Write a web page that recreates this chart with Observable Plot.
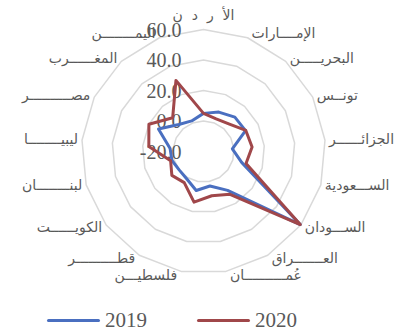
<!DOCTYPE html>
<html>
<head>
<meta charset="utf-8">
<script src="https://cdn.jsdelivr.net/npm/d3@7"></script>
<script src="https://cdn.jsdelivr.net/npm/@observablehq/plot@0.6"></script>
<style>
  body { margin: 0; background: #fff; }
  #wrap { width: 401px; height: 334px; position: relative; overflow: hidden; }
  #legend { position: absolute; left: 0; top: 300px; width: 401px; height: 34px; }
  .sw { position: absolute; height: 3px; top: 19px; border-radius: 2px; }
  .lt { position: absolute; top: 7px; font-family: "Liberation Serif", "Times New Roman", serif; font-size: 21px; color: #595959; line-height: 26px; }
</style>
</head>
<body>
<div id="wrap"><div id="chart"></div><div id="legend"></div></div>
<script>
// ---- data ----
const categories = ["Jordan","UAE","Bahrain","Tunisia","Algeria","Saudi Arabia","Sudan","Iraq","Oman","Palestine","Qatar","Kuwait","Lebanon","Libya","Egypt","Morocco","Yemen"];
const labels = [
  "الأ\u00A0 ر\u00A0 د\u00A0 ن",
  "الإمــــارات",
  "البحريـــــن",
  "تونــس",
  "الجزائــــــر",
  "الســـعودية",
  "الســـودان",
  "العـــــــراق",
  "عُمــــــــــان",
  "فلسطيـــن",
  "قطــــــــــر",
  "الكويــــــت",
  "لبنــــــــان",
  "ليبيــــــــا",
  "مصــــــــــر",
  "المغــــــرب",
  "اليمــــــــن"
];
const years = ["2019", "2020"];
const values2019 = [5, 7.7, 10.5, 10.8, -1, 6, 59.5, 10, 3, 6, 1, 0, 1.5, 2, 13, 4, 1.5];
const values2020 = [5, 3, 4.6, 11, 12, 9, 59.5, 13, 9.5, 13.8, 4, 6, 2.4, 16, 20, 10, 30];
const tickValues = [-20, 0, 20, 40, 60];
const colors = ["#4A6FC0", "#A0474A"];

// ---- geometry helpers ----
const rMin = tickValues[0];
const rMax = tickValues[tickValues.length - 1];
const R = rMax - rMin;
const N = categories.length;
const ang = i => i * 2 * Math.PI / N;

const rings = tickValues.slice(1).flatMap(t => categories.map((c, i) => ({ring: t, x: (t - rMin) * Math.sin(ang(i)), y: (t - rMin) * Math.cos(ang(i))})));
const series = [values2019, values2020].flatMap((vals, k) => vals.map((v, i) => ({year: years[k], cat: categories[i], x: (v - rMin) * Math.sin(ang(i)), y: (v - rMin) * Math.cos(ang(i))})));

const pxPerUnit = 244 / (2 * R);
const labelData = labels.map((t, i) => {
  const a = ang(i);
  const dyPx = i === 0 ? -14 : -4 * Math.cos(a);
  return {text: t, i, x: R * Math.sin(a), y: R * Math.cos(a) - dyPx / pxPerUnit, side: i === 0 ? "top" : (a < Math.PI ? "right" : "left")};
});

const labelStyle = {fontFamily: "DejaVu Sans", fontSize: 14, fill: "#595959"};

const chart = Plot.plot({
  width: 401,
  height: 300,
  marginLeft: 81,
  marginRight: 76,
  marginTop: 29,
  marginBottom: 27,
  x: {domain: [-R, R], axis: null},
  y: {domain: [-R, R], axis: null},
  color: {domain: years, range: colors},
  marks: [
    Plot.line(rings, {x: "x", y: "y", z: "ring", curve: "linear-closed", stroke: "#d9d9d9", strokeWidth: 1.5}),
    Plot.text(tickValues, {x: 0, y: d => d - rMin, text: d => d.toFixed(1), textAnchor: "end", dx: -22, dy: 1, fontFamily: "Liberation Serif", fontSize: 20, fill: "#595959"}),
    Plot.line(series, {x: "x", y: "y", z: "year", stroke: "year", curve: "linear-closed", strokeWidth: 3, strokeLinejoin: "round"}),
    Plot.text(labelData.filter(d => d.side === "right"), {x: "x", y: "y", text: "text", textAnchor: "start", dx: 4, ...labelStyle}),
    Plot.text(labelData.filter(d => d.side === "left"), {x: "x", y: "y", text: "text", textAnchor: "end", dx: -4, ...labelStyle}),
    Plot.text(labelData.filter(d => d.side === "top"), {x: "x", y: "y", text: "text", textAnchor: "middle", ...labelStyle})
  ]
});
document.getElementById("chart").appendChild(chart);

// ---- legend ----
const legend = document.getElementById("legend");
const legendX = [47, 197];
years.forEach((y, k) => {
  const sw = document.createElement("div");
  sw.className = "sw";
  sw.style.left = legendX[k] + "px";
  sw.style.width = "53px";
  sw.style.background = colors[k];
  legend.appendChild(sw);
  const t = document.createElement("div");
  t.className = "lt";
  t.style.left = (legendX[k] + 58) + "px";
  t.textContent = y;
  legend.appendChild(t);
});
</script>
</body>
</html>
